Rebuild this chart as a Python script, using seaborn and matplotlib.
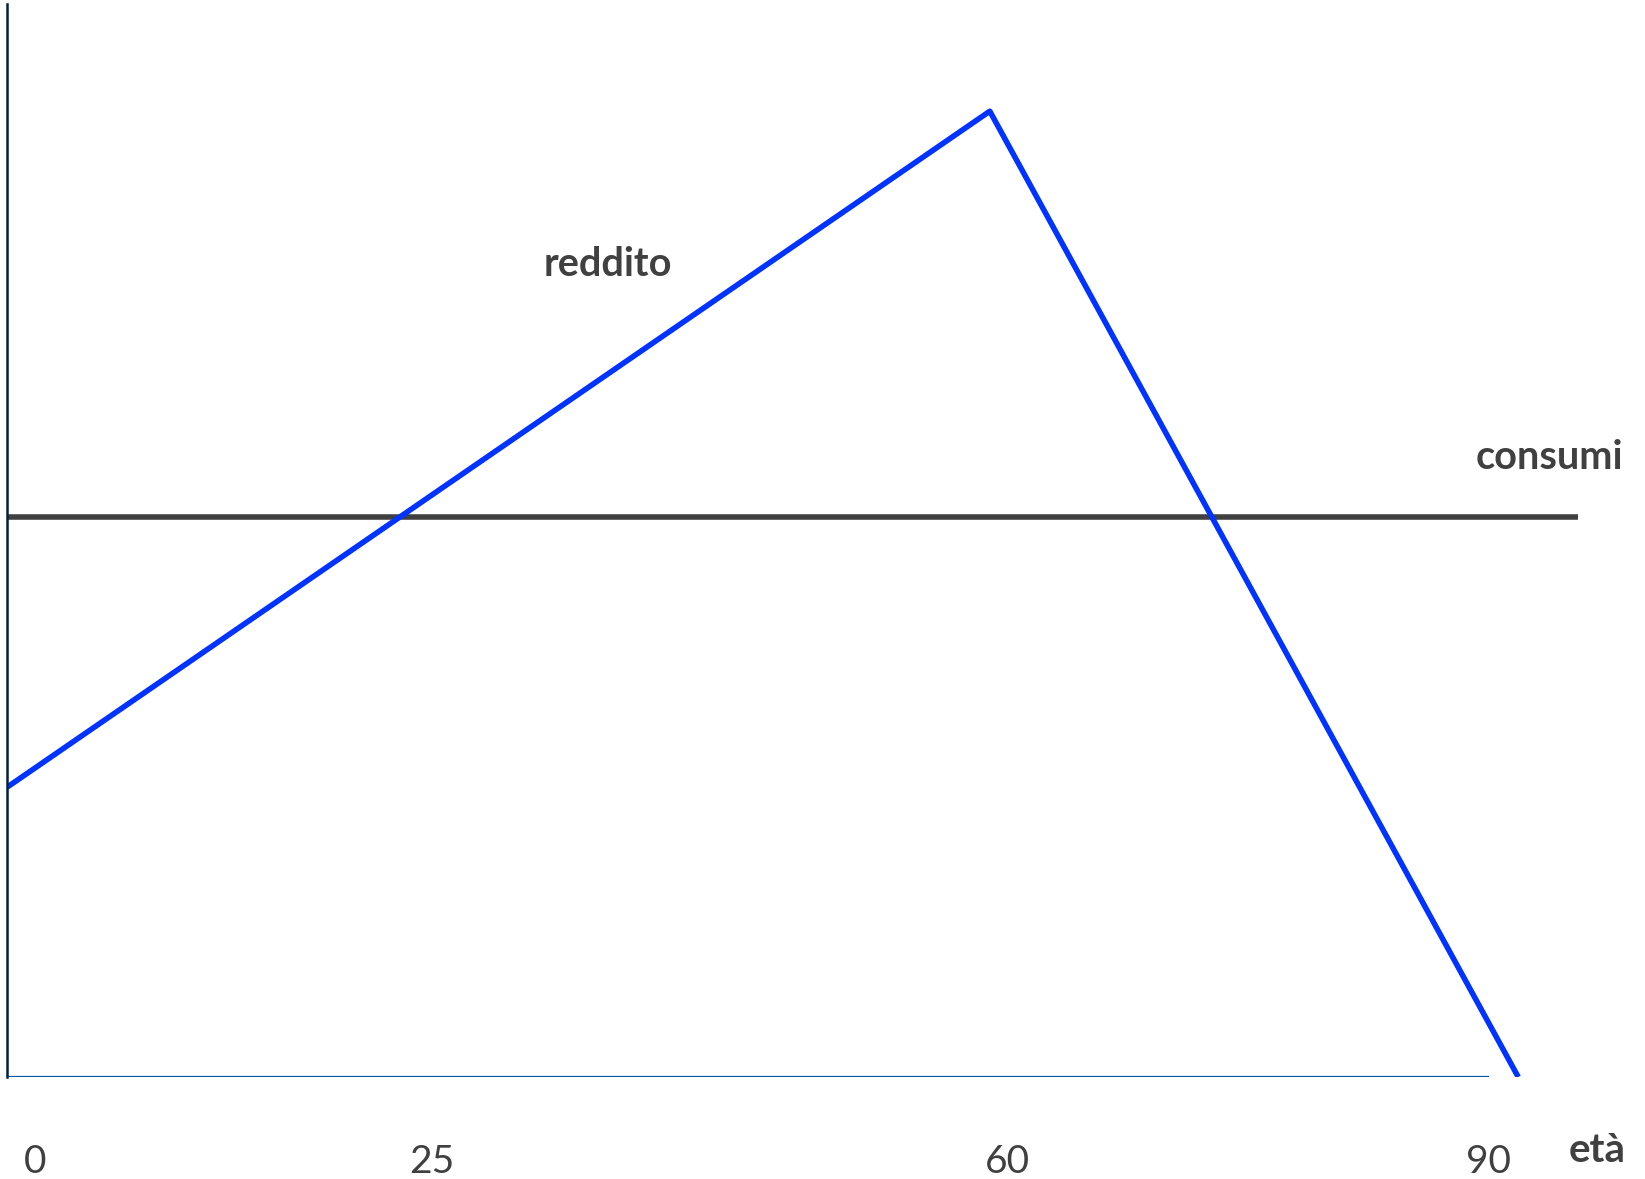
import matplotlib
matplotlib.use("Agg")
import matplotlib.pyplot as plt
import matplotlib.transforms as mtransforms
import seaborn as sns
import pandas as pd

# data (schematic life-cycle chart)
eta_reddito = [0, 59.7, 91.8]
reddito = [30, 100, 0]
eta_consumi = [0, 95.4]
consumi = [58, 58]
tick_eta = [0, 25, 60, 90]
tick_labels = ["0", "25", "60", "90"]

sns.set_style("white")
plt.rcParams['font.family'] = ['Lato', 'DejaVu Sans']

fig = plt.figure(figsize=(16.45, 11.79), dpi=100)
ax = fig.add_axes([7 / 1645, 102 / 1179, 1638 / 1645, 1073 / 1179])

df_r = pd.DataFrame({"eta": eta_reddito, "valore": reddito})
df_c = pd.DataFrame({"eta": eta_consumi, "valore": consumi})

sns.lineplot(data=df_c, x="eta", y="valore", ax=ax, color="#404040",
             linewidth=4.0, solid_capstyle="butt")
sns.lineplot(data=df_r, x="eta", y="valore", ax=ax, color="#0033FF",
             linewidth=4.0, solid_capstyle="butt")

# x axis line only up to 90
ax.plot([0, 90], [0, 0], color="#0054A0", linewidth=1.6, solid_capstyle="butt")

ax.set_xlim(0, 99.5)
ax.set_ylim(0, 111.1)

for s in ["top", "right", "bottom"]:
    ax.spines[s].set_visible(False)
ax.spines["left"].set_color("#002040")
ax.spines["left"].set_linewidth(1.8)

ax.set_yticks([])
ax.set_xticks(tick_eta)
ax.set_xticklabels(tick_labels, fontsize=28, color="#404040")
ax.tick_params(axis="x", length=0, pad=48)
# labels in the original are not exactly under their ages
shifts = [0.28, 0.13, 0.13, 0.0]
for lbl, dx in zip(ax.get_xticklabels(), shifts):
    lbl.set_transform(lbl.get_transform() +
                      mtransforms.ScaledTranslation(dx, 0, fig.dpi_scale_trans))
ax.set_xlabel("")
ax.set_ylabel("")

ax.text(36.5, 84.1, "reddito", fontsize=28.5, fontweight="bold", color="#404040",
        ha="center", va="center")
ax.text(93.7, 64.1, "consumi", fontsize=28.5, fontweight="bold", color="#404040",
        ha="center", va="center")
ax.text(96.6, -8.8, "età", fontsize=29, fontweight="bold", color="#404040",
        ha="center", va="baseline", clip_on=False)

fig.savefig("out.png", dpi=100)
